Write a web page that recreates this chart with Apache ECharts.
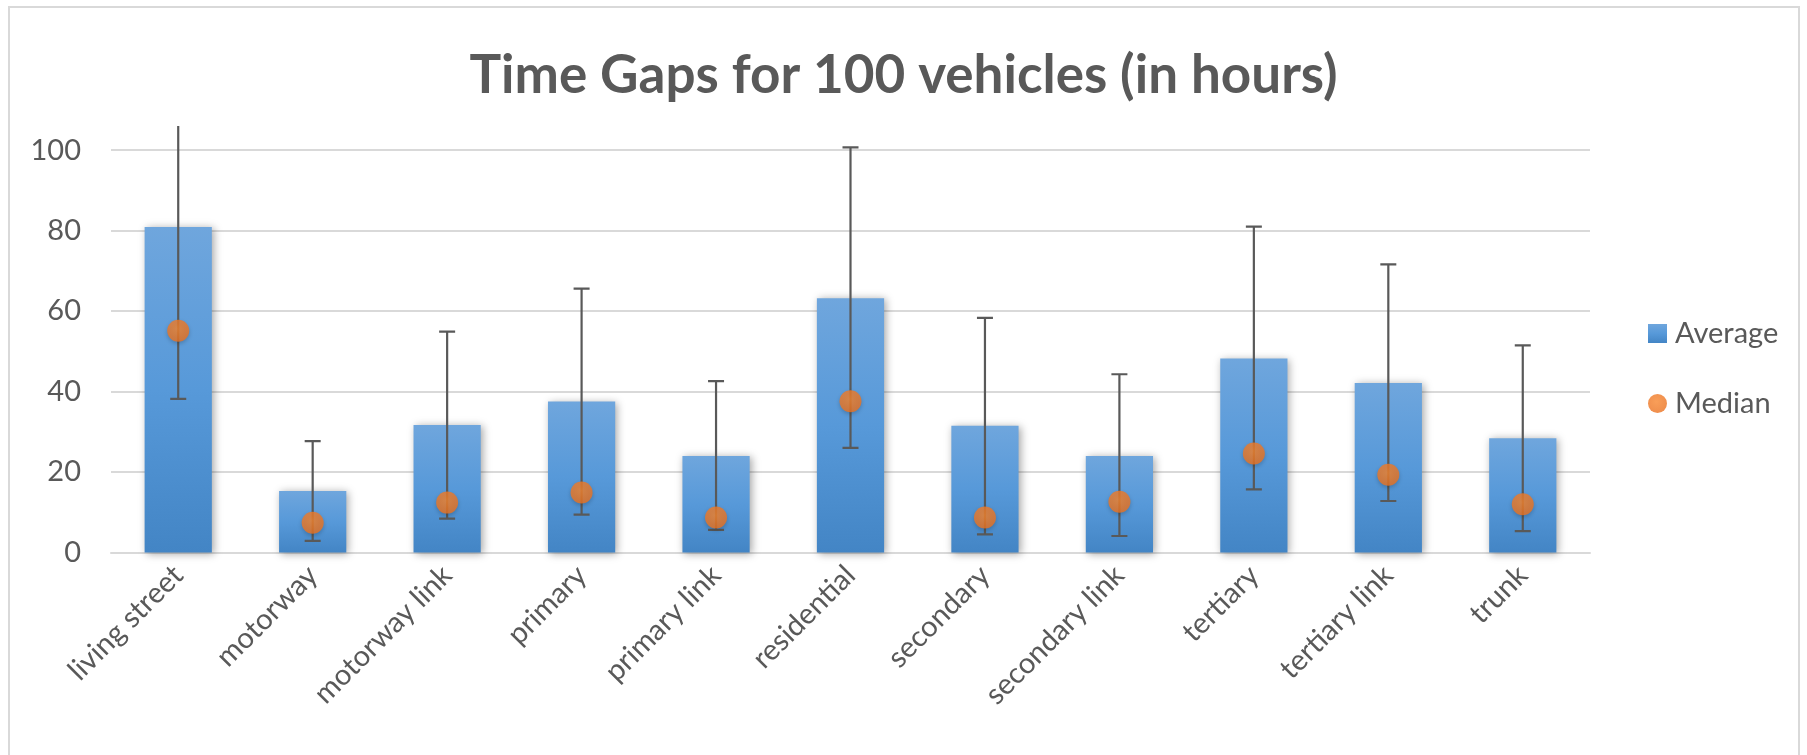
<!DOCTYPE html>
<html>
<head>
<meta charset="utf-8">
<script src="https://cdn.jsdelivr.net/npm/echarts@6/dist/echarts.min.js"></script>
<style>
  html, body { margin: 0; padding: 0; background: #fff; }
  #chart { width: 1807px; height: 755px; }
</style>
</head>
<body>
<div id="chart"></div>
<script>
const categories = ['living street', 'motorway', 'motorway link', 'primary', 'primary link', 'residential',
  'secondary', 'secondary link', 'tertiary', 'tertiary link', 'trunk']
const average = [80.9, 15.3, 31.7, 37.5, 24.0, 63.2, 31.5, 24.0, 48.2, 42.1, 28.4]
const median = [55.1, 7.4, 12.4, 14.9, 8.7, 37.6, 8.7, 12.6, 24.6, 19.3, 12.0]
const errLow = [38.2, 2.9, 8.4, 9.4, 5.6, 26.0, 4.5, 4.1, 15.7, 12.8, 5.3]
const errHigh = [110, 27.7, 54.9, 65.6, 42.6, 100.7, 58.3, 44.3, 81.0, 71.6, 51.5]

const font = 'Lato, "Open Sans", sans-serif'
const grey = '#595959'

const errData = categories.map((c, i) => [i, errLow[i], errHigh[i]])

const chart = echarts.init(document.getElementById('chart'), null, { renderer: 'canvas' })

chart.setOption({
  animation: false,
  backgroundColor: '#fff',
  title: {
    text: 'Time Gaps for 100 vehicles (in hours)',
    left: 'center',
    top: 44,
    textStyle: { fontFamily: font, fontSize: 53, fontWeight: 'bold', color: grey },
  },
  legend: {
    orient: 'vertical',
    left: 1643,
    top: 314,
    itemWidth: 19,
    itemHeight: 19,
    itemGap: 41,
    textStyle: { fontFamily: font, fontSize: 29, color: grey, lineHeight: 20, padding: [0, 0, 0, 3] },
    data: [
      { name: 'Average', icon: 'rect' },
      { name: 'Median', icon: 'circle' },
    ],
  },
  graphic: [
    {
      type: 'rect',
      shape: { x: 9, y: 7, width: 1790, height: 760 },
      style: { fill: 'none', stroke: '#d9d9d9', lineWidth: 2 },
      silent: true,
    },
  ],
  grid: { left: 111, right: 217, top: 126, bottom: 202.5 },
  xAxis: {
    type: 'category',
    data: categories,
    axisTick: { show: false },
    axisLine: { lineStyle: { color: '#d9d9d9', width: 2 } },
    axisLabel: {
      rotate: 45,
      margin: 18,
      fontFamily: font,
      fontSize: 29,
      color: grey,
      interval: 0,
    },
  },
  yAxis: {
    type: 'value',
    min: 0,
    max: 106,
    interval: 20,
    axisLine: { show: false },
    axisTick: { show: false },
    axisLabel: { fontFamily: font, fontSize: 29, color: grey, margin: 30, showMaxLabel: false },
    splitLine: { showMaxLine: false, lineStyle: { color: '#d9d9d9', width: 2 } },
  },
  series: [
    {
      name: 'Average',
      type: 'bar',
      data: average,
      barWidth: '50%',
      itemStyle: {
        color: new echarts.graphic.LinearGradient(0, 0, 0, 1, [
          { offset: 0, color: '#6fa6dd' },
          { offset: 0.5, color: '#5799d9' },
          { offset: 1, color: '#4385c5' },
        ]),
        shadowBlur: 8,
        shadowColor: 'rgba(0,0,0,0.35)',
        shadowOffsetX: 2,
        shadowOffsetY: 1,
      },
      z: 2,
    },
    {
      name: 'err',
      type: 'custom',
      data: errData,
      clip: true,
      z: 3,
      renderItem: (params, api) => {
        const x = api.coord([api.value(0), 0])[0]
        const lo = api.coord([api.value(0), api.value(1)])[1]
        const hi = api.coord([api.value(0), api.value(2)])[1]
        const cap = 8
        const style = { stroke: grey, lineWidth: 2.2 }
        return {
          type: 'group',
          children: [
            { type: 'line', shape: { x1: x, y1: lo, x2: x, y2: hi }, style },
            { type: 'line', shape: { x1: x - cap, y1: hi, x2: x + cap, y2: hi }, style },
            { type: 'line', shape: { x1: x - cap, y1: lo, x2: x + cap, y2: lo }, style },
          ],
        }
      },
    },
    {
      name: 'Median',
      type: 'scatter',
      data: median,
      symbol: 'circle',
      symbolSize: 22,
      z: 4,
      itemStyle: {
        color: new echarts.graphic.RadialGradient(0.45, 0.4, 0.6, [
          { offset: 0, color: '#f7862f' },
          { offset: 1, color: '#eb7220' },
        ]),
        shadowBlur: 4,
        shadowColor: 'rgba(0,0,0,0.25)',
        shadowOffsetY: 2,
      },
    },
  ],
})
</script>
</body>
</html>
